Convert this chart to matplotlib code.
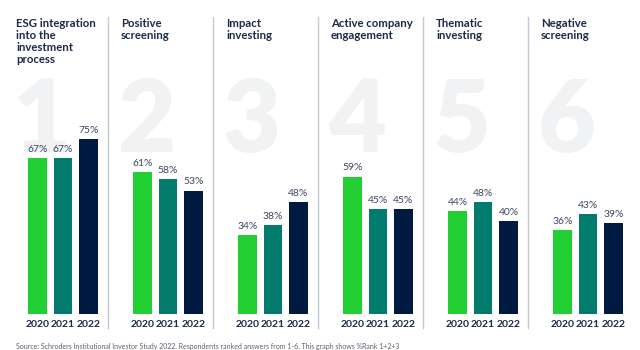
import matplotlib
matplotlib.use("Agg")
import matplotlib.pyplot as plt
from matplotlib.lines import Line2D

plt.rcParams['font.family'] = ['Lato', 'DejaVu Sans']

# --- data ---
titles = [
    "ESG integration\ninto the\ninvestment\nprocess",
    "Positive\nscreening",
    "Impact\ninvesting",
    "Active company\nengagement",
    "Thematic\ninvesting",
    "Negative\nscreening",
]
ranks = ["1", "2", "3", "4", "5", "6"]
years = ["2020", "2021", "2022"]
values_2020 = [67, 61, 34, 59, 44, 36]
values_2021 = [67, 58, 38, 45, 48, 43]
values_2022 = [75, 53, 48, 45, 40, 39]
source = ("Source: Schroders Institutional Investor Study 2022. Respondents ranked "
          "answers from 1-6. This graph shows %Rank 1+2+3")

bar_colors = ["#22cf33", "#007b6c", "#001a42"]
navy = "#1b2a47"
W, H = 640, 350

fig = plt.figure(figsize=(W / 100, H / 100), dpi=100)
fig.patch.set_facecolor("white")

panel_w = 105
panel_x0 = 3
y_zero = 314      # pixel row of 0%
y_top = 17        # pixel row of panel top
px_per_pct = 2.33

for i, title in enumerate(titles):
    left = panel_x0 + panel_w * i
    # big faint rank number, behind everything
    fig.text((left + 10) / W, 1 - 152 / H, ranks[i], fontsize=72, fontweight="heavy",
             color="#f1f2f3", ha="left", va="baseline", zorder=-5)
    ax = fig.add_axes([left / W, 1 - y_zero / H, panel_w / W, (y_zero - y_top) / H])
    ax.set_facecolor("none")
    ax.set_xlim(-34.5 / 25.5, (panel_w - 34.5) / 25.5)
    ax.set_ylim(0, (y_zero - y_top) / px_per_pct)
    vals = [values_2020[i], values_2021[i], values_2022[i]]
    bars = ax.bar(range(3), vals, width=0.745, color=bar_colors, zorder=2)
    for b, v in zip(bars, vals):
        ax.annotate(f"{v}%", (b.get_x() + b.get_width() / 2, v), xytext=(0, 3),
                    textcoords="offset points", ha="center", va="bottom",
                    fontsize=7.5, color="#3a4660")
    ax.set_xticks(range(3))
    ax.set_xticklabels(years, fontsize=7.5, fontweight="bold", color=navy)
    ax.tick_params(axis="x", length=0, pad=4)
    ax.set_yticks([])
    for s in ax.spines.values():
        s.set_visible(False)
    fig.text((left + 13) / W, 1 - 18 / H, title, ha="left", va="top",
             fontsize=8.2, fontweight="bold", color=navy, linespacing=1.1)
    if i > 0:
        fig.add_artist(Line2D([left / W, left / W], [1 - y_top / H, 1 - 328 / H],
                              color="#c3c9d3", linewidth=1))

fig.text(16 / W, 1 - 346 / H, source, fontsize=5, color="#5a6270", ha="left", va="center")

fig.savefig("out.png", dpi=100, facecolor="white")
